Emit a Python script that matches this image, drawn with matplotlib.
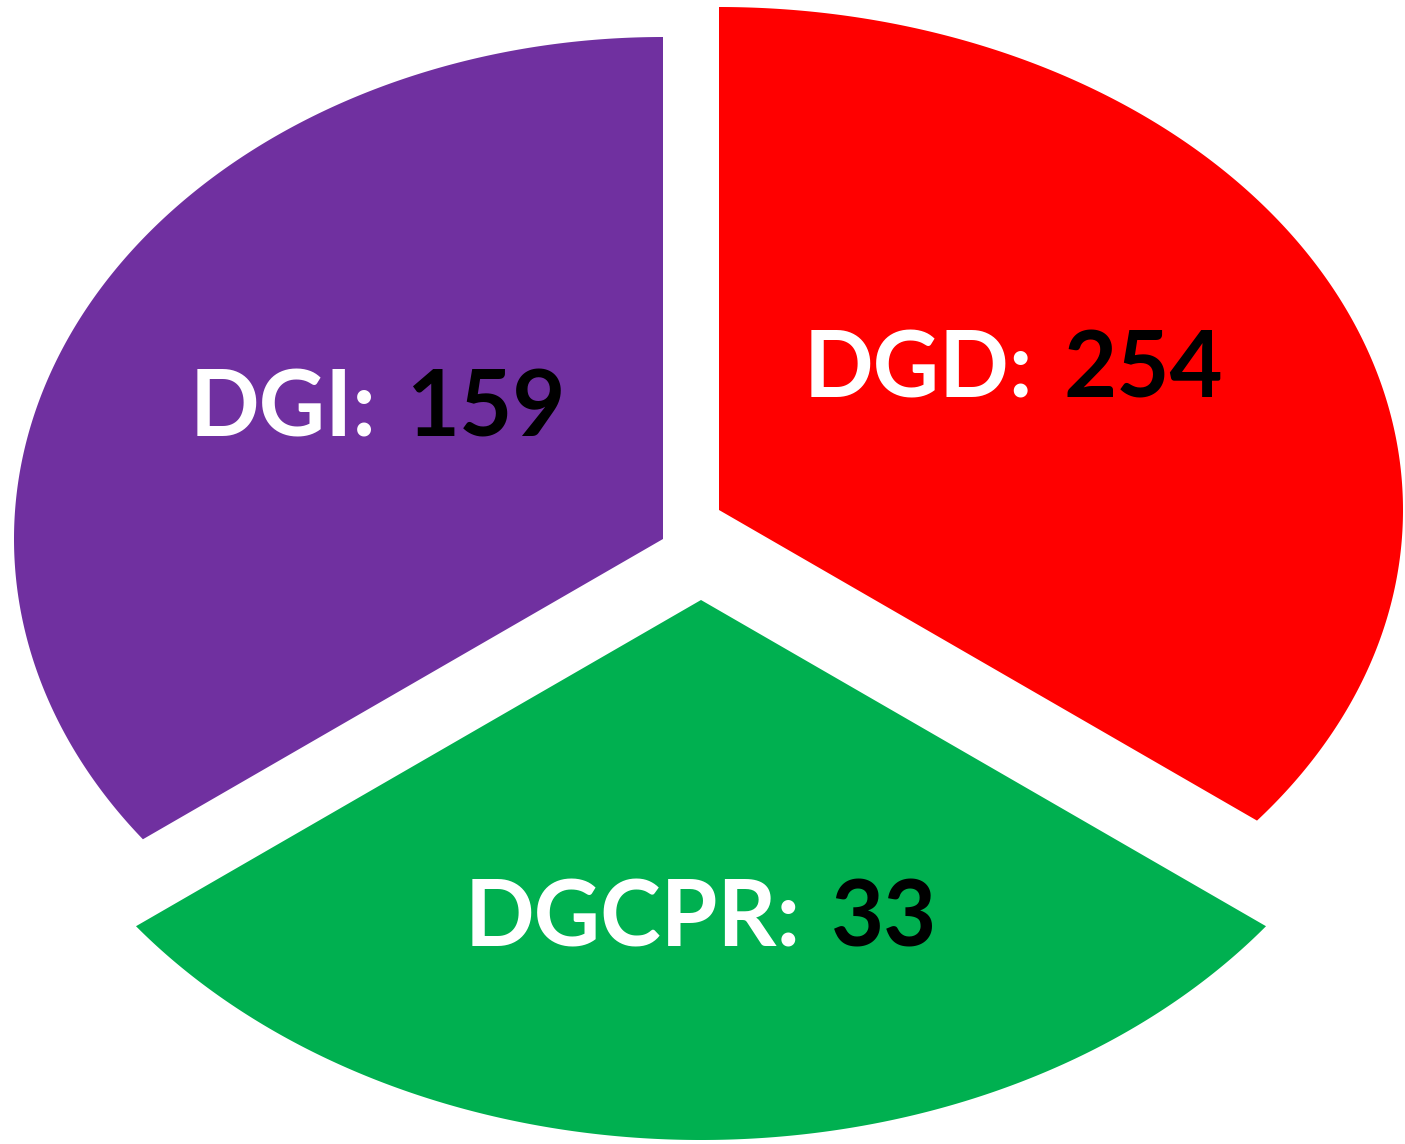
import numpy as np
from matplotlib import pyplot as plt
from matplotlib.patches import Polygon

# sector data (clockwise from 12 o'clock)
names = ['DGD', 'DGCPR', 'DGI']
counts = [254, 33, 159]
shares = [1, 1, 1]   # the three sectors are drawn the same size in the picture
colours = ['#FF0000', '#00B050', '#7030A0']

# layout of each sector, in pixels
shift = [(19, 44), (1, -46), (-37, 15)]
radii = [(684, 503), (709, 540), (649, 502)]
label_at = [(0.43, 0.29), (0.0, -0.58), (-0.44, 0.27)]

FS = 66
CAP = 33   # half cap height in px
GAP = 30

fig = plt.figure(figsize=(14.05, 11.44), dpi=100)
ax = fig.add_axes([0, 0, 1, 1])

wedges, _ = ax.pie(shares, colors=colours, startangle=90, counterclock=False,
                   center=(700, 590), radius=1)
ax.set_aspect('auto')
ax.set_xlim(0, 1405)
ax.set_ylim(0, 1144)
ax.axis('off')

# turn every sector into an elliptical one; straight edges keep their true angle
anchors = []
for w, (dx, dy), (a, b) in zip(wedges, shift, radii):
    cx = w.center[0] + dx
    cy = w.center[1] + dy
    t = np.radians(np.linspace(w.theta1, w.theta2, 400))
    r = a * b / np.sqrt((b * np.cos(t)) ** 2 + (a * np.sin(t)) ** 2)
    pts = np.column_stack([cx + r * np.cos(t), cy + r * np.sin(t)])
    pts = np.vstack([[cx, cy], pts])
    ax.add_patch(Polygon(pts, closed=True, facecolor=w.get_facecolor(),
                         edgecolor='none'))
    anchors.append((cx, cy, a, b))
    w.remove()

fig.canvas.draw()
rend = fig.canvas.get_renderer()

for name, n, (cx, cy, a, b), (lx, ly) in zip(names, counts, anchors, label_at):
    x = cx + a * lx
    y = cy + b * ly - CAP
    t1 = ax.text(0, y, name + ':', color='white', fontsize=FS, fontweight='bold',
                 family='Lato', ha='left', va='baseline')
    t2 = ax.text(0, y, str(n), color='black', fontsize=FS, fontweight='bold',
                 family='Lato', ha='left', va='baseline')
    w1 = t1.get_window_extent(rend).width
    w2 = t2.get_window_extent(rend).width
    left = x - (w1 + GAP + w2) / 2
    t1.set_x(left)
    t2.set_x(left + w1 + GAP)

fig.savefig('out.png', dpi=100)
